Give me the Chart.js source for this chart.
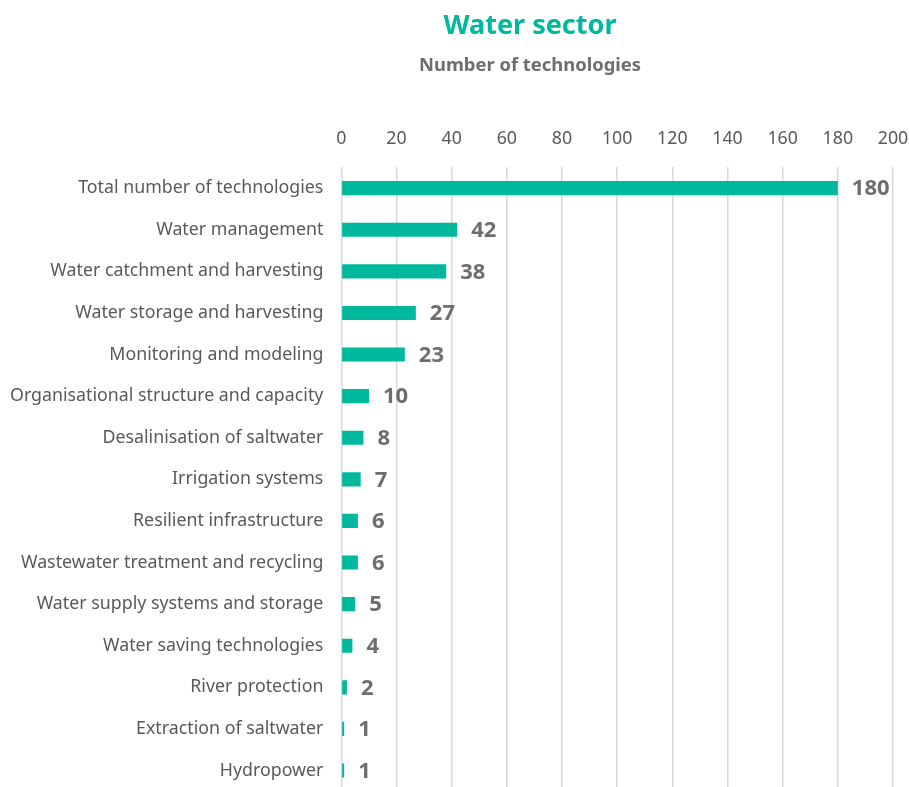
<!DOCTYPE html>
<html><head><meta charset="utf-8">
<script src="https://cdn.jsdelivr.net/npm/chart.js@4"></script>
<style>html,body{margin:0;padding:0;background:#fff;overflow:hidden}canvas{display:block}</style>
</head><body>
<canvas id="c" width="909" height="820"></canvas>
<script>
const categories = [
  "Total number of technologies","Water management","Water catchment and harvesting",
  "Water storage and harvesting","Monitoring and modeling","Organisational structure and capacity",
  "Desalinisation of saltwater","Irrigation systems","Resilient infrastructure",
  "Wastewater treatment and recycling","Water supply systems and storage","Water saving technologies",
  "River protection","Extraction of saltwater","Hydropower"
];
const counts = [180,42,38,27,23,10,8,7,6,6,5,4,2,1,1];
const title = "Water sector";
const subtitle = "Number of technologies";
const xMin = 0, xMax = 200, xStep = 20;

const FONT = "'Noto Sans', sans-serif";

const headerPlugin = {
  id: 'header',
  afterDraw(chart) {
    const ctx = chart.ctx;
    ctx.save();
    ctx.textAlign = 'center';
    ctx.textBaseline = 'middle';
    ctx.fillStyle = '#00b89c';
    ctx.font = "bold 27px " + FONT;
    ctx.fillText(title, 530, 26);
    ctx.fillStyle = '#6d6e71';
    ctx.font = "bold 18.4px " + FONT;
    ctx.fillText(subtitle, 530, 66);
    ctx.restore();
  }
};

const valuePlugin = {
  id: 'values',
  afterDatasetsDraw(chart) {
    const ctx = chart.ctx;
    const meta = chart.getDatasetMeta(0);
    ctx.save();
    ctx.fillStyle = '#6d6e71';
    ctx.font = "bold 22px " + FONT;
    ctx.textAlign = 'left';
    ctx.textBaseline = 'middle';
    meta.data.forEach((bar, i) => {
      ctx.fillText(String(counts[i]), bar.x + 14, bar.y + 1);
    });
    ctx.restore();
  }
};

new Chart(document.getElementById('c'), {
  type: 'bar',
  data: {
    labels: categories,
    datasets: [{
      data: counts,
      backgroundColor: '#00b89c',
      borderWidth: 0,
      barPercentage: 0.34,
      categoryPercentage: 1.0
    }]
  },
  options: {
    indexAxis: 'y',
    responsive: false,
    animation: false,
    layout: { padding: { top: 110, right: 16, left: -8, bottom: 0 } },
    plugins: { legend: { display: false }, tooltip: { enabled: false }, title: { display: false } },
    scales: {
      x: {
        position: 'top',
        min: xMin, max: xMax,
        afterFit(scale) { scale.paddingRight = 0; },
        ticks: { stepSize: xStep, color: '#595959', font: { family: FONT, size: 17.8 }, padding: 18 },
        grid: { color: '#d9d9d9', lineWidth: 1.5, drawTicks: false },
        border: { display: false }
      },
      y: {
        ticks: { color: '#595959', font: { family: FONT, size: 17.8 }, padding: 18 },
        grid: { display: false, drawTicks: false },
        border: { display: false }
      }
    }
  },
  plugins: [headerPlugin, valuePlugin]
});
</script>
</body></html>
